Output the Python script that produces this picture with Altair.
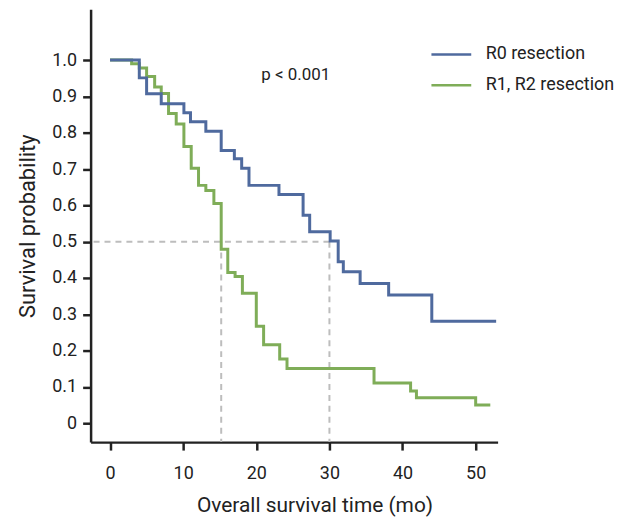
import altair as alt
import pandas as pd

# ---- data ----
groups = ["R0 resection", "R1, R2 resection"]
colors = ["#4f6a9e", "#7fad58"]

r0_time = [0, 4.0, 5.0, 7.0, 10.1, 11.0, 13.1, 15.2, 17.0, 18.0, 19.0, 23.1,
           26.4, 27.3, 30.1, 31.2, 31.9, 34.2, 38.1, 44.0, 52.8]
r0_surv = [1.0, 0.951, 0.907, 0.880, 0.855, 0.830, 0.804, 0.751, 0.728, 0.702,
           0.655, 0.630, 0.573, 0.527, 0.502, 0.445, 0.417, 0.385, 0.353, 0.281, 0.281]

r12_time = [0, 2.95, 4.0, 5.0, 6.1, 7.0, 8.0, 9.05, 10.1, 11.1, 12.1, 13.1, 14.2,
            15.2, 16.1, 17.1, 18.1, 20.0, 21.0, 23.2, 24.2, 36.1, 41.1, 41.9, 50.0, 52.0]
r12_surv = [1.0, 0.99, 0.978, 0.955, 0.926, 0.908, 0.853, 0.824, 0.762, 0.702,
            0.655, 0.641, 0.605, 0.479, 0.415, 0.404, 0.358, 0.267, 0.216, 0.177,
            0.151, 0.111, 0.089, 0.070, 0.050, 0.050]

median_times = [15.2, 30.0]
median_level = 0.5

p_label = ["p < 0.001"]
p_pos_x = [25.4]
p_pos_y = [0.959]

x_ticks = [0, 10, 20, 30, 40, 50]
y_ticks = [0, 0.1, 0.2, 0.3, 0.4, 0.5, 0.6, 0.7, 0.8, 0.9, 1.0]

FONT = "Roboto"
INK = "#222222"

df_r0 = pd.DataFrame({"time": r0_time, "surv": r0_surv, "group": groups[0]})
df_r12 = pd.DataFrame({"time": r12_time, "surv": r12_surv, "group": groups[1]})
df_med = pd.DataFrame({"time": median_times, "level": [median_level] * len(median_times)})
df_hmed = pd.DataFrame({"time": [max(median_times)], "level": [median_level]})
df_p = pd.DataFrame({"x": p_pos_x, "y": p_pos_y, "label": p_label})

x_scale = alt.Scale(domain=[-2.66, 53.0], nice=False, zero=False)
y_scale = alt.Scale(domain=[-0.052, 1.14], nice=False, zero=False)
color_scale = alt.Scale(domain=groups, range=colors)

x_axis = alt.Axis(
    values=x_ticks, format="d", grid=False,
    domainColor=INK, domainWidth=2.5, tickColor=INK, tickWidth=2.5, tickSize=8,
    labelFont=FONT, labelFontSize=18, labelColor=INK, labelPadding=15,
    titleFont=FONT, titleFontSize=21, titleFontWeight="normal", titleColor=INK,
    titleX=225, titleY=70, titleBaseline="alphabetic",
)
y_axis = alt.Axis(
    values=y_ticks, grid=False,
    labelExpr="datum.value == 0 ? '0' : format(datum.value, '.1f')",
    domainColor=INK, domainWidth=2.5, tickColor=INK, tickWidth=2.5, tickSize=8,
    labelFont=FONT, labelFontSize=18, labelColor=INK, labelPadding=6,
    titleFont=FONT, titleFontSize=22, titleFontWeight="normal", titleColor=INK,
    titleX=-63, titleBaseline="middle",
)

legend = alt.Legend(
    title=None, orient="none", legendX=341, legendY=24,
    symbolType="stroke", symbolSize=1600, symbolStrokeWidth=2.5,
    labelFont=FONT, labelFontSize=18, labelColor=INK, labelOffset=13,
    rowPadding=-6,
)

def curve(df):
    return alt.Chart(df).mark_line(interpolate="step-after", strokeWidth=3).encode(
        x=alt.X("time:Q", scale=x_scale, axis=x_axis, title="Overall survival time (mo)"),
        y=alt.Y("surv:Q", scale=y_scale, axis=y_axis, title="Survival probability"),
        color=alt.Color("group:N", scale=color_scale, legend=legend),
    )

vrules = alt.Chart(df_med).mark_rule(color="#bdbdbd", strokeWidth=2, strokeDash=[6, 5]).encode(
    x=alt.X("time:Q", scale=x_scale),
    y=alt.Y("level:Q", scale=y_scale),
    y2=alt.value(435),
)
hrule = alt.Chart(df_hmed).mark_rule(color="#bdbdbd", strokeWidth=2, strokeDash=[6, 5]).encode(
    x=alt.X("time:Q", scale=x_scale),
    x2=alt.value(0),
    y=alt.Y("level:Q", scale=y_scale),
)
ptext = alt.Chart(df_p).mark_text(font=FONT, fontSize=17, color=INK, align="center", baseline="middle").encode(
    x=alt.X("x:Q", scale=x_scale),
    y=alt.Y("y:Q", scale=y_scale),
    text="label:N",
)

chart = alt.layer(vrules, hrule, curve(df_r12), curve(df_r0), ptext).properties(
    width=409, height=435,
    autosize=alt.AutoSizeParams(type="none"),
    padding={"left": 83, "top": 0, "right": 125, "bottom": 75},
    background="white",
).configure_view(stroke=None)

chart.save("out.html", embed_options={"renderer": "svg", "actions": False})
